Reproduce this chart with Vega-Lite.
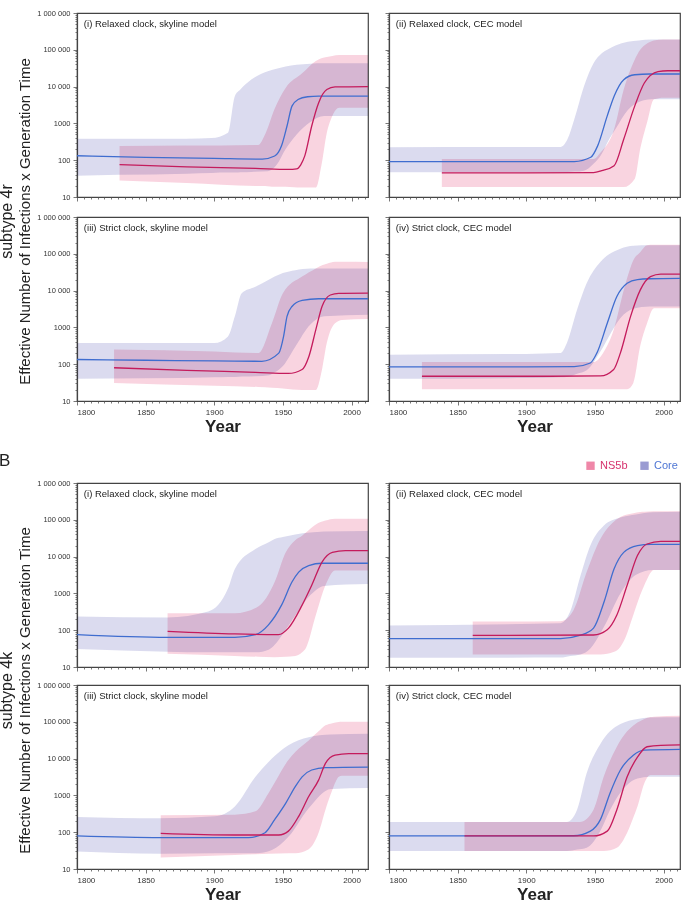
{
  "$schema": "https://vega.github.io/schema/vega-lite/v6.json",
  "padding": {"left": -1, "top": 8, "right": 0, "bottom": 0},
  "background": "white",
  "config": {
    "font": "Liberation Sans",
    "view": {"stroke": "#444", "strokeWidth": 1.2},
    "axis": {"domainColor": "#444", "domainWidth": 1.2, "tickColor": "#555", "tickWidth": 0.8, "labelColor": "#333", "labelFont": "Liberation Sans", "titleFont": "Liberation Sans", "titleColor": "#222", "grid": false, "labelOverlap": false},
    "title": {"font": "Liberation Sans", "fontWeight": "normal", "color": "#222", "subtitleFont": "Liberation Sans", "subtitleColor": "#222"}
  },
  "datasets": {
    "labels": [
      {"p": "A1", "label": "(i) Relaxed clock, skyline model"},
      {"p": "A2", "label": "(ii) Relaxed clock, CEC model"},
      {"p": "A3", "label": "(iii) Strict clock, skyline model"},
      {"p": "A4", "label": "(iv) Strict clock, CEC model"},
      {"p": "B1", "label": "(i) Relaxed clock, skyline model"},
      {"p": "B2", "label": "(ii) Relaxed clock, CEC model"},
      {"p": "B3", "label": "(iii) Strict clock, skyline model"},
      {"p": "B4", "label": "(iv) Strict clock, CEC model"}
    ],
    "bands": [
      {"p":"A1","s":"Core","x":1800,"lo":38,"hi":380},{"p":"A1","s":"Core","x":1830,"lo":40,"hi":380},{"p":"A1","s":"Core","x":1880,"lo":43,"hi":380},{"p":"A1","s":"Core","x":1898,"lo":45,"hi":400},{"p":"A1","s":"Core","x":1910,"lo":46,"hi":560},{"p":"A1","s":"Core","x":1915,"lo":46,"hi":5500},{"p":"A1","s":"Core","x":1919,"lo":47,"hi":8300},{"p":"A1","s":"Core","x":1927,"lo":48,"hi":15500},{"p":"A1","s":"Core","x":1939,"lo":50,"hi":26000},{"p":"A1","s":"Core","x":1946,"lo":80,"hi":31000},{"p":"A1","s":"Core","x":1952,"lo":200,"hi":35000},{"p":"A1","s":"Core","x":1960,"lo":500,"hi":39000},{"p":"A1","s":"Core","x":1970,"lo":1100,"hi":42000},{"p":"A1","s":"Core","x":1980,"lo":1600,"hi":43000},{"p":"A1","s":"Core","x":2012,"lo":1600,"hi":43000},
      {"p":"A1","s":"NS5b","x":1831,"lo":28,"hi":245},{"p":"A1","s":"NS5b","x":1880,"lo":24,"hi":250},{"p":"A1","s":"NS5b","x":1932,"lo":20,"hi":260},{"p":"A1","s":"NS5b","x":1937,"lo":20,"hi":500},{"p":"A1","s":"NS5b","x":1944,"lo":19,"hi":2500},{"p":"A1","s":"NS5b","x":1952,"lo":19,"hi":9200},{"p":"A1","s":"NS5b","x":1964,"lo":18,"hi":23000},{"p":"A1","s":"NS5b","x":1974,"lo":18,"hi":50000},{"p":"A1","s":"NS5b","x":1978,"lo":71,"hi":59000},{"p":"A1","s":"NS5b","x":1982,"lo":560,"hi":64000},{"p":"A1","s":"NS5b","x":1986,"lo":1600,"hi":68000},{"p":"A1","s":"NS5b","x":1991,"lo":2650,"hi":72000},{"p":"A1","s":"NS5b","x":2000,"lo":2650,"hi":72000},{"p":"A1","s":"NS5b","x":2012,"lo":2650,"hi":72000},

      {"p":"A2","s":"Core","x":1800,"lo":47,"hi":225},{"p":"A2","s":"Core","x":1900,"lo":47,"hi":228},{"p":"A2","s":"Core","x":1925,"lo":47,"hi":230},{"p":"A2","s":"Core","x":1930,"lo":48,"hi":370},{"p":"A2","s":"Core","x":1935,"lo":49,"hi":1290},{"p":"A2","s":"Core","x":1942,"lo":52,"hi":10000},{"p":"A2","s":"Core","x":1949,"lo":80,"hi":43000},{"p":"A2","s":"Core","x":1955,"lo":150,"hi":80000},{"p":"A2","s":"Core","x":1959,"lo":300,"hi":100000},{"p":"A2","s":"Core","x":1965,"lo":700,"hi":130000},{"p":"A2","s":"Core","x":1974,"lo":2300,"hi":165000},{"p":"A2","s":"Core","x":1982,"lo":3800,"hi":180000},{"p":"A2","s":"Core","x":1991,"lo":4500,"hi":190000},{"p":"A2","s":"Core","x":2012,"lo":4500,"hi":190000},
      {"p":"A2","s":"NS5b","x":1838.5,"lo":18.6,"hi":108},{"p":"A2","s":"NS5b","x":1900,"lo":18.6,"hi":108},{"p":"A2","s":"NS5b","x":1949,"lo":18.6,"hi":108},{"p":"A2","s":"NS5b","x":1954,"lo":18.6,"hi":160},{"p":"A2","s":"NS5b","x":1964,"lo":18.6,"hi":690},{"p":"A2","s":"NS5b","x":1971,"lo":18.6,"hi":8300},{"p":"A2","s":"NS5b","x":1979,"lo":31,"hi":54000},{"p":"A2","s":"NS5b","x":1983,"lo":200,"hi":100000},{"p":"A2","s":"NS5b","x":1988,"lo":1050,"hi":148000},{"p":"A2","s":"NS5b","x":1993,"lo":4500,"hi":180000},{"p":"A2","s":"NS5b","x":2000,"lo":5000,"hi":190000},{"p":"A2","s":"NS5b","x":2012,"lo":5000,"hi":190000},

      {"p":"A3","s":"Core","x":1800,"lo":40,"hi":375},{"p":"A3","s":"Core","x":1900,"lo":44,"hi":375},{"p":"A3","s":"Core","x":1910,"lo":45,"hi":570},{"p":"A3","s":"Core","x":1915,"lo":45,"hi":2000},{"p":"A3","s":"Core","x":1920,"lo":46,"hi":8500},{"p":"A3","s":"Core","x":1930,"lo":47,"hi":12700},{"p":"A3","s":"Core","x":1940,"lo":50,"hi":20000},{"p":"A3","s":"Core","x":1944,"lo":60,"hi":24000},{"p":"A3","s":"Core","x":1950,"lo":90,"hi":30000},{"p":"A3","s":"Core","x":1959,"lo":300,"hi":36000},{"p":"A3","s":"Core","x":1970,"lo":1200,"hi":40000},{"p":"A3","s":"Core","x":1980,"lo":2000,"hi":40000},{"p":"A3","s":"Core","x":2012,"lo":2200,"hi":40000},
      {"p":"A3","s":"NS5b","x":1827,"lo":31,"hi":250},{"p":"A3","s":"NS5b","x":1900,"lo":26,"hi":220},{"p":"A3","s":"NS5b","x":1932,"lo":24,"hi":200},{"p":"A3","s":"NS5b","x":1942,"lo":23,"hi":1300},{"p":"A3","s":"NS5b","x":1950,"lo":22,"hi":8500},{"p":"A3","s":"NS5b","x":1964,"lo":20,"hi":24000},{"p":"A3","s":"NS5b","x":1974,"lo":20,"hi":40000},{"p":"A3","s":"NS5b","x":1978.5,"lo":72,"hi":49000},{"p":"A3","s":"NS5b","x":1982,"lo":380,"hi":54000},{"p":"A3","s":"NS5b","x":1988,"lo":1300,"hi":61000},{"p":"A3","s":"NS5b","x":1993,"lo":1600,"hi":61000},{"p":"A3","s":"NS5b","x":2012,"lo":1700,"hi":60000},

      {"p":"A4","s":"Core","x":1800,"lo":40,"hi":182},{"p":"A4","s":"Core","x":1900,"lo":42,"hi":190},{"p":"A4","s":"Core","x":1925,"lo":44,"hi":200},{"p":"A4","s":"Core","x":1929.6,"lo":45,"hi":375},{"p":"A4","s":"Core","x":1937,"lo":55,"hi":3000},{"p":"A4","s":"Core","x":1944,"lo":68,"hi":15800},{"p":"A4","s":"Core","x":1954,"lo":220,"hi":60000},{"p":"A4","s":"Core","x":1960,"lo":550,"hi":95000},{"p":"A4","s":"Core","x":1968.6,"lo":1800,"hi":138000},{"p":"A4","s":"Core","x":1978,"lo":3200,"hi":165000},{"p":"A4","s":"Core","x":1990,"lo":3700,"hi":170000},{"p":"A4","s":"Core","x":2012,"lo":3700,"hi":170000},
      {"p":"A4","s":"NS5b","x":1824,"lo":20.7,"hi":115},{"p":"A4","s":"NS5b","x":1900,"lo":20.7,"hi":115},{"p":"A4","s":"NS5b","x":1949,"lo":20.7,"hi":115},{"p":"A4","s":"NS5b","x":1956,"lo":20.7,"hi":203},{"p":"A4","s":"NS5b","x":1963.7,"lo":20.7,"hi":860},{"p":"A4","s":"NS5b","x":1971,"lo":20.9,"hi":10300},{"p":"A4","s":"NS5b","x":1973.5,"lo":21,"hi":22000},{"p":"A4","s":"NS5b","x":1978,"lo":31,"hi":67000},{"p":"A4","s":"NS5b","x":1983,"lo":310,"hi":110000},{"p":"A4","s":"NS5b","x":1988,"lo":1300,"hi":170000},{"p":"A4","s":"NS5b","x":1993,"lo":3300,"hi":175000},{"p":"A4","s":"NS5b","x":2012,"lo":3300,"hi":175000},

      {"p":"B1","s":"Core","x":1800,"lo":31,"hi":235},{"p":"B1","s":"Core","x":1866,"lo":26,"hi":220},{"p":"B1","s":"Core","x":1895.6,"lo":25,"hi":320},{"p":"B1","s":"Core","x":1910,"lo":25,"hi":1350},{"p":"B1","s":"Core","x":1915,"lo":25,"hi":4600},{"p":"B1","s":"Core","x":1930,"lo":25,"hi":16000},{"p":"B1","s":"Core","x":1940,"lo":30,"hi":25000},{"p":"B1","s":"Core","x":1944,"lo":40,"hi":30000},{"p":"B1","s":"Core","x":1950,"lo":80,"hi":34000},{"p":"B1","s":"Core","x":1959,"lo":250,"hi":40000},{"p":"B1","s":"Core","x":1970,"lo":900,"hi":45000},{"p":"B1","s":"Core","x":1980,"lo":1600,"hi":48000},{"p":"B1","s":"Core","x":2012,"lo":1800,"hi":50000},
      {"p":"B1","s":"NS5b","x":1866,"lo":23,"hi":290},{"p":"B1","s":"NS5b","x":1915,"lo":20,"hi":290},{"p":"B1","s":"NS5b","x":1932,"lo":19,"hi":440},{"p":"B1","s":"NS5b","x":1944,"lo":18.5,"hi":2040},{"p":"B1","s":"NS5b","x":1952,"lo":19,"hi":13000},{"p":"B1","s":"NS5b","x":1959,"lo":20,"hi":28000},{"p":"B1","s":"NS5b","x":1964,"lo":25,"hi":37000},{"p":"B1","s":"NS5b","x":1966.8,"lo":33,"hi":45000},{"p":"B1","s":"NS5b","x":1974,"lo":260,"hi":75000},{"p":"B1","s":"NS5b","x":1981,"lo":1660,"hi":95000},{"p":"B1","s":"NS5b","x":1988,"lo":4200,"hi":107000},{"p":"B1","s":"NS5b","x":2012,"lo":4200,"hi":107000},

      {"p":"B2","s":"Core","x":1800,"lo":17.8,"hi":135},{"p":"B2","s":"Core","x":1925,"lo":18,"hi":155},{"p":"B2","s":"Core","x":1932,"lo":20,"hi":320},{"p":"B2","s":"Core","x":1939.6,"lo":22,"hi":3100},{"p":"B2","s":"Core","x":1946.7,"lo":32,"hi":20000},{"p":"B2","s":"Core","x":1956.4,"lo":120,"hi":69000},{"p":"B2","s":"Core","x":1968.6,"lo":1000,"hi":115000},{"p":"B2","s":"Core","x":1980,"lo":3200,"hi":140000},{"p":"B2","s":"Core","x":1992,"lo":4300,"hi":160000},{"p":"B2","s":"Core","x":2012,"lo":4300,"hi":165000},
      {"p":"B2","s":"NS5b","x":1861,"lo":22,"hi":172},{"p":"B2","s":"NS5b","x":1925,"lo":22,"hi":175},{"p":"B2","s":"NS5b","x":1934.5,"lo":22,"hi":355},{"p":"B2","s":"NS5b","x":1944,"lo":22,"hi":3800},{"p":"B2","s":"NS5b","x":1954,"lo":22,"hi":30000},{"p":"B2","s":"NS5b","x":1964,"lo":26,"hi":90000},{"p":"B2","s":"NS5b","x":1966,"lo":28,"hi":103000},{"p":"B2","s":"NS5b","x":1971,"lo":50,"hi":130000},{"p":"B2","s":"NS5b","x":1978,"lo":260,"hi":150000},{"p":"B2","s":"NS5b","x":1983,"lo":900,"hi":163000},{"p":"B2","s":"NS5b","x":1986,"lo":1660,"hi":165000},{"p":"B2","s":"NS5b","x":1993,"lo":4300,"hi":170000},{"p":"B2","s":"NS5b","x":2012,"lo":4300,"hi":170000},

      {"p":"B3","s":"Core","x":1800,"lo":30,"hi":260},{"p":"B3","s":"Core","x":1861,"lo":26,"hi":240},{"p":"B3","s":"Core","x":1900.5,"lo":27,"hi":270},{"p":"B3","s":"Core","x":1915,"lo":27,"hi":500},{"p":"B3","s":"Core","x":1930,"lo":27,"hi":3200},{"p":"B3","s":"Core","x":1942,"lo":33,"hi":10000},{"p":"B3","s":"Core","x":1954,"lo":75,"hi":23000},{"p":"B3","s":"Core","x":1968.8,"lo":450,"hi":38000},{"p":"B3","s":"Core","x":1985,"lo":1500,"hi":45000},{"p":"B3","s":"Core","x":2012,"lo":1600,"hi":47000},
      {"p":"B3","s":"NS5b","x":1861,"lo":20.5,"hi":290},{"p":"B3","s":"NS5b","x":1915,"lo":24,"hi":300},{"p":"B3","s":"NS5b","x":1930,"lo":25,"hi":370},{"p":"B3","s":"NS5b","x":1939.5,"lo":26,"hi":1150},{"p":"B3","s":"NS5b","x":1954,"lo":27,"hi":9100},{"p":"B3","s":"NS5b","x":1959,"lo":27,"hi":15000},{"p":"B3","s":"NS5b","x":1968.8,"lo":34.5,"hi":31000},{"p":"B3","s":"NS5b","x":1976,"lo":97,"hi":55000},{"p":"B3","s":"NS5b","x":1981,"lo":410,"hi":80000},{"p":"B3","s":"NS5b","x":1986,"lo":1400,"hi":92000},{"p":"B3","s":"NS5b","x":1990.7,"lo":3200,"hi":98000},{"p":"B3","s":"NS5b","x":1993,"lo":3400,"hi":100000},{"p":"B3","s":"NS5b","x":2012,"lo":3400,"hi":100000},

      {"p":"B4","s":"Core","x":1800,"lo":31,"hi":190},{"p":"B4","s":"Core","x":1929.6,"lo":31,"hi":190},{"p":"B4","s":"Core","x":1937,"lo":34,"hi":410},{"p":"B4","s":"Core","x":1944,"lo":38,"hi":4000},{"p":"B4","s":"Core","x":1954,"lo":110,"hi":25000},{"p":"B4","s":"Core","x":1961,"lo":400,"hi":55000},{"p":"B4","s":"Core","x":1968.6,"lo":1200,"hi":87000},{"p":"B4","s":"Core","x":1981,"lo":2900,"hi":120000},{"p":"B4","s":"Core","x":1990,"lo":3200,"hi":130000},{"p":"B4","s":"Core","x":2012,"lo":3200,"hi":133000},
      {"p":"B4","s":"NS5b","x":1855,"lo":31,"hi":190},{"p":"B4","s":"NS5b","x":1939,"lo":31,"hi":190},{"p":"B4","s":"NS5b","x":1949,"lo":31,"hi":410},{"p":"B4","s":"NS5b","x":1956.4,"lo":31,"hi":3200},{"p":"B4","s":"NS5b","x":1966,"lo":38,"hi":21000},{"p":"B4","s":"NS5b","x":1973.5,"lo":97,"hi":55000},{"p":"B4","s":"NS5b","x":1978,"lo":250,"hi":79000},{"p":"B4","s":"NS5b","x":1981,"lo":500,"hi":95000},{"p":"B4","s":"NS5b","x":1986,"lo":2150,"hi":120000},{"p":"B4","s":"NS5b","x":1990.5,"lo":3600,"hi":135000},{"p":"B4","s":"NS5b","x":1993,"lo":3600,"hi":138000},{"p":"B4","s":"NS5b","x":2012,"lo":3600,"hi":145000}
    ],
    "lines": [
      {"p":"A1","k":"Core","x":1800,"m":132},{"p":"A1","k":"Core","x":1850,"m":120},{"p":"A1","k":"Core","x":1900,"m":112},{"p":"A1","k":"Core","x":1935,"m":107},{"p":"A1","k":"Core","x":1944,"m":130},{"p":"A1","k":"Core","x":1949,"m":247},{"p":"A1","k":"Core","x":1953,"m":850},{"p":"A1","k":"Core","x":1956.6,"m":2950},{"p":"A1","k":"Core","x":1961,"m":4450},{"p":"A1","k":"Core","x":1968,"m":5300},{"p":"A1","k":"Core","x":1976,"m":5500},{"p":"A1","k":"Core","x":2012,"m":5500},
      {"p":"A1","k":"NS5b","x":1831,"m":76},{"p":"A1","k":"NS5b","x":1880,"m":66},{"p":"A1","k":"NS5b","x":1930,"m":60},{"p":"A1","k":"NS5b","x":1954,"m":56},{"p":"A1","k":"NS5b","x":1960,"m":58},{"p":"A1","k":"NS5b","x":1963,"m":75},{"p":"A1","k":"NS5b","x":1966,"m":133},{"p":"A1","k":"NS5b","x":1971,"m":850},{"p":"A1","k":"NS5b","x":1976,"m":3600},{"p":"A1","k":"NS5b","x":1982,"m":8300},{"p":"A1","k":"NS5b","x":1988,"m":9800},{"p":"A1","k":"NS5b","x":2012,"m":10000},

      {"p":"A2","k":"Core","x":1800,"m":91},{"p":"A2","k":"Core","x":1900,"m":91},{"p":"A2","k":"Core","x":1935,"m":92},{"p":"A2","k":"Core","x":1947,"m":120},{"p":"A2","k":"Core","x":1952,"m":245},{"p":"A2","k":"Core","x":1959,"m":1600},{"p":"A2","k":"Core","x":1964,"m":5500},{"p":"A2","k":"Core","x":1971,"m":15400},{"p":"A2","k":"Core","x":1979,"m":21000},{"p":"A2","k":"Core","x":1990,"m":22000},{"p":"A2","k":"Core","x":2012,"m":22000},
      {"p":"A2","k":"NS5b","x":1838.5,"m":45},{"p":"A2","k":"NS5b","x":1900,"m":45},{"p":"A2","k":"NS5b","x":1949,"m":46},{"p":"A2","k":"NS5b","x":1955,"m":52},{"p":"A2","k":"NS5b","x":1964,"m":71},{"p":"A2","k":"NS5b","x":1971,"m":370},{"p":"A2","k":"NS5b","x":1979,"m":2950},{"p":"A2","k":"NS5b","x":1986,"m":12500},{"p":"A2","k":"NS5b","x":1996,"m":25500},{"p":"A2","k":"NS5b","x":2003,"m":27000},{"p":"A2","k":"NS5b","x":2012,"m":27000},

      {"p":"A3","k":"Core","x":1800,"m":134},{"p":"A3","k":"Core","x":1850,"m":128},{"p":"A3","k":"Core","x":1900,"m":123},{"p":"A3","k":"Core","x":1934.6,"m":120},{"p":"A3","k":"Core","x":1947,"m":200},{"p":"A3","k":"Core","x":1950.5,"m":570},{"p":"A3","k":"Core","x":1953,"m":2000},{"p":"A3","k":"Core","x":1956.6,"m":3700},{"p":"A3","k":"Core","x":1964,"m":5400},{"p":"A3","k":"Core","x":1976,"m":6000},{"p":"A3","k":"Core","x":2012,"m":6000},
      {"p":"A3","k":"NS5b","x":1827,"m":80},{"p":"A3","k":"NS5b","x":1880,"m":68},{"p":"A3","k":"NS5b","x":1930,"m":60},{"p":"A3","k":"NS5b","x":1954,"m":56},{"p":"A3","k":"NS5b","x":1964,"m":72},{"p":"A3","k":"NS5b","x":1969,"m":165},{"p":"A3","k":"NS5b","x":1974,"m":870},{"p":"A3","k":"NS5b","x":1978.5,"m":3700},{"p":"A3","k":"NS5b","x":1984.6,"m":7600},{"p":"A3","k":"NS5b","x":1990.7,"m":8400},{"p":"A3","k":"NS5b","x":2012,"m":8500},

      {"p":"A4","k":"Core","x":1800,"m":85},{"p":"A4","k":"Core","x":1900,"m":85},{"p":"A4","k":"Core","x":1935,"m":86},{"p":"A4","k":"Core","x":1946.7,"m":108},{"p":"A4","k":"Core","x":1951.5,"m":203},{"p":"A4","k":"Core","x":1959,"m":1300},{"p":"A4","k":"Core","x":1966,"m":6900},{"p":"A4","k":"Core","x":1973.5,"m":15800},{"p":"A4","k":"Core","x":1981,"m":20000},{"p":"A4","k":"Core","x":1990,"m":21000},{"p":"A4","k":"Core","x":2012,"m":21500},
      {"p":"A4","k":"NS5b","x":1824,"m":47},{"p":"A4","k":"NS5b","x":1900,"m":47},{"p":"A4","k":"NS5b","x":1954,"m":48},{"p":"A4","k":"NS5b","x":1963.7,"m":72},{"p":"A4","k":"NS5b","x":1968.6,"m":203},{"p":"A4","k":"NS5b","x":1976,"m":2000},{"p":"A4","k":"NS5b","x":1983,"m":10300},{"p":"A4","k":"NS5b","x":1990.5,"m":24000},{"p":"A4","k":"NS5b","x":1998,"m":28000},{"p":"A4","k":"NS5b","x":2012,"m":28000},

      {"p":"B1","k":"Core","x":1800,"m":76},{"p":"B1","k":"Core","x":1866,"m":64},{"p":"B1","k":"Core","x":1915,"m":64},{"p":"B1","k":"Core","x":1930,"m":76},{"p":"B1","k":"Core","x":1939.5,"m":140},{"p":"B1","k":"Core","x":1949,"m":480},{"p":"B1","k":"Core","x":1956.6,"m":2040},{"p":"B1","k":"Core","x":1961.5,"m":3800},{"p":"B1","k":"Core","x":1968.8,"m":5700},{"p":"B1","k":"Core","x":1978.5,"m":6600},{"p":"B1","k":"Core","x":2012,"m":6600},
      {"p":"B1","k":"NS5b","x":1866,"m":93},{"p":"B1","k":"NS5b","x":1915,"m":79},{"p":"B1","k":"NS5b","x":1946.8,"m":76},{"p":"B1","k":"NS5b","x":1954,"m":114},{"p":"B1","k":"NS5b","x":1964,"m":480},{"p":"B1","k":"NS5b","x":1971,"m":1660},{"p":"B1","k":"NS5b","x":1978.5,"m":7100},{"p":"B1","k":"NS5b","x":1986,"m":13000},{"p":"B1","k":"NS5b","x":1995.6,"m":14500},{"p":"B1","k":"NS5b","x":2012,"m":14500},

      {"p":"B2","k":"Core","x":1800,"m":59},{"p":"B2","k":"Core","x":1925,"m":59},{"p":"B2","k":"Core","x":1939.6,"m":73},{"p":"B2","k":"Core","x":1949,"m":114},{"p":"B2","k":"Core","x":1956.7,"m":590},{"p":"B2","k":"Core","x":1964,"m":4650},{"p":"B2","k":"Core","x":1971,"m":13000},{"p":"B2","k":"Core","x":1981,"m":20000},{"p":"B2","k":"Core","x":1990.5,"m":21500},{"p":"B2","k":"Core","x":2012,"m":21500},
      {"p":"B2","k":"NS5b","x":1861,"m":72},{"p":"B2","k":"NS5b","x":1949,"m":74},{"p":"B2","k":"NS5b","x":1959,"m":103},{"p":"B2","k":"NS5b","x":1966,"m":260},{"p":"B2","k":"NS5b","x":1973.5,"m":1660},{"p":"B2","k":"NS5b","x":1981,"m":10700},{"p":"B2","k":"NS5b","x":1988,"m":22000},{"p":"B2","k":"NS5b","x":1998,"m":26000},{"p":"B2","k":"NS5b","x":2012,"m":26000},

      {"p":"B3","k":"Core","x":1800,"m":79},{"p":"B3","k":"Core","x":1861,"m":71},{"p":"B3","k":"Core","x":1925,"m":71},{"p":"B3","k":"Core","x":1937,"m":97},{"p":"B3","k":"Core","x":1944,"m":220},{"p":"B3","k":"Core","x":1952,"m":610},{"p":"B3","k":"Core","x":1959,"m":1730},{"p":"B3","k":"Core","x":1964,"m":3200},{"p":"B3","k":"Core","x":1971,"m":4900},{"p":"B3","k":"Core","x":1981,"m":5700},{"p":"B3","k":"Core","x":2012,"m":5900},
      {"p":"B3","k":"NS5b","x":1861,"m":93},{"p":"B3","k":"NS5b","x":1915,"m":84},{"p":"B3","k":"NS5b","x":1947,"m":84},{"p":"B3","k":"NS5b","x":1954,"m":107},{"p":"B3","k":"NS5b","x":1961.5,"m":270},{"p":"B3","k":"NS5b","x":1968.8,"m":930},{"p":"B3","k":"NS5b","x":1976,"m":2600},{"p":"B3","k":"NS5b","x":1981,"m":7400},{"p":"B3","k":"NS5b","x":1988,"m":12400},{"p":"B3","k":"NS5b","x":1998,"m":13700},{"p":"B3","k":"NS5b","x":2012,"m":13700},

      {"p":"B4","k":"Core","x":1800,"m":79},{"p":"B4","k":"Core","x":1934.5,"m":80},{"p":"B4","k":"Core","x":1946.7,"m":107},{"p":"B4","k":"Core","x":1954,"m":220},{"p":"B4","k":"Core","x":1961,"m":1150},{"p":"B4","k":"Core","x":1968.6,"m":4900},{"p":"B4","k":"Core","x":1978,"m":12400},{"p":"B4","k":"Core","x":1985.7,"m":17000},{"p":"B4","k":"Core","x":2012,"m":17800},
      {"p":"B4","k":"NS5b","x":1855,"m":79},{"p":"B4","k":"NS5b","x":1949,"m":79},{"p":"B4","k":"NS5b","x":1959,"m":107},{"p":"B4","k":"NS5b","x":1966,"m":410},{"p":"B4","k":"NS5b","x":1973.5,"m":3200},{"p":"B4","k":"NS5b","x":1981,"m":11000},{"p":"B4","k":"NS5b","x":1988,"m":21000},{"p":"B4","k":"NS5b","x":1998,"m":23000},{"p":"B4","k":"NS5b","x":2012,"m":23500}
    ]
  },
  "spacing": 17,
  "vconcat": [
    {
      "title": {"text": "subtype 4r", "subtitle": "Effective Number of Infections x Generation Time", "orient": "left", "anchor": "middle", "fontSize": 16, "subtitleFontSize": 15, "subtitlePadding": 3, "offset": 3},
      "spacing": 10,
      "vconcat": [
        {"spacing": 12, "hconcat": [
          {"width": 291, "height": 184, "resolve": {"axis": {"x": "independent", "y": "independent"}}, "layer": [
            {"data": {"name": "bands"}, "transform": [{"filter": "datum.p === 'A1'"}], "mark": {"type": "area", "interpolate": "monotone", "blend": "multiply", "opacity": 0.36},
             "encoding": {
               "x": {"field": "x", "type": "quantitative", "scale": {"domain": [1800, 2012], "nice": false, "zero": false}, "axis": {"title": null, "labels": false, "values": [1800,1850,1900,1950,2000], "tickSize": 4}},
               "y": {"field": "lo", "type": "quantitative", "scale": {"type": "log", "domain": [10, 1000000], "nice": false}, "axis": {"title": null, "values": [10,100,1000,10000,100000,1000000], "labelExpr": "datum.value === 1000000 ? '1 000 000' : datum.value === 100000 ? '100 000' : datum.value === 10000 ? '10 000' : datum.value === 1000 ? '1000' : datum.value === 100 ? '100' : '10'", "labelFontSize": 7.5, "labelPadding": 3, "tickSize": 4}},
               "y2": {"field": "hi"},
               "color": {"field": "s", "type": "nominal", "scale": {"domain": ["NS5b", "Core"], "range": ["#ef87a8", "#9a9bd2"]}, "legend": {"title": null, "orient": "none", "direction": "horizontal", "legendX": 508, "legendY": 447, "symbolType": "square", "symbolSize": 70, "symbolOpacity": 1, "symbolStrokeWidth": 0, "labelFontSize": 11, "labelOffset": 4, "columnPadding": 11, "encode": {"labels": {"update": {"fill": {"signal": "datum.value === 'NS5b' ? '#d6336e' : '#4e76d4'"}}}}}}
             }},
            {"data": {"name": "lines"}, "transform": [{"filter": "datum.p === 'A1'"}], "mark": {"type": "line", "interpolate": "monotone", "strokeWidth": 1.3},
             "encoding": {
               "x": {"field": "x", "type": "quantitative", "axis": {"orient": "bottom", "title": null, "labels": false, "domain": false, "tickSize": 2, "values": [1805,1810,1815,1820,1825,1830,1835,1840,1845,1855,1860,1865,1870,1875,1880,1885,1890,1895,1905,1910,1915,1920,1925,1930,1935,1940,1945,1955,1960,1965,1970,1975,1980,1985,1990,1995,2005,2010]}},
               "y": {"field": "m", "type": "quantitative", "axis": {"orient": "left", "title": null, "labels": false, "domain": false, "tickSize": 2, "values": [20,30,40,50,60,70,80,90,200,300,400,500,600,700,800,900,2000,3000,4000,5000,6000,7000,8000,9000,20000,30000,40000,50000,60000,70000,80000,90000,200000,300000,400000,500000,600000,700000,800000,900000]}},
               "stroke": {"field": "k", "type": "nominal", "scale": {"domain": ["NS5b", "Core"], "range": ["#c41b5c", "#3f6dcf"]}, "legend": null}}},
            {"data": {"name": "labels"}, "transform": [{"filter": "datum.p === 'A1'"}], "mark": {"type": "text", "align": "left", "baseline": "middle", "fontSize": 9.5, "color": "#222"},
             "encoding": {"x": {"datum": 1805, "axis": null}, "y": {"datum": 500000, "axis": null}, "text": {"field": "label"}}}
          ]},
          {"width": 291, "height": 184, "resolve": {"axis": {"x": "independent", "y": "independent"}}, "layer": [
            {"data": {"name": "bands"}, "transform": [{"filter": "datum.p === 'A2'"}], "mark": {"type": "area", "interpolate": "monotone", "blend": "multiply", "opacity": 0.36},
             "encoding": {
               "x": {"field": "x", "type": "quantitative", "scale": {"domain": [1800, 2012], "nice": false, "zero": false}, "axis": {"title": null, "labels": false, "values": [1800,1850,1900,1950,2000], "tickSize": 4}},
               "y": {"field": "lo", "type": "quantitative", "scale": {"type": "log", "domain": [10, 1000000], "nice": false}, "axis": {"title": null, "labels": false, "values": [10,100,1000,10000,100000,1000000], "tickSize": 4}},
               "y2": {"field": "hi"},
               "color": {"field": "s", "type": "nominal", "scale": {"domain": ["NS5b", "Core"], "range": ["#ef87a8", "#9a9bd2"]}, "legend": {"title": null, "orient": "none", "direction": "horizontal", "legendX": 508, "legendY": 447, "symbolType": "square", "symbolSize": 70, "symbolOpacity": 1, "symbolStrokeWidth": 0, "labelFontSize": 11, "labelOffset": 4, "columnPadding": 11, "encode": {"labels": {"update": {"fill": {"signal": "datum.value === 'NS5b' ? '#d6336e' : '#4e76d4'"}}}}}}
             }},
            {"data": {"name": "lines"}, "transform": [{"filter": "datum.p === 'A2'"}], "mark": {"type": "line", "interpolate": "monotone", "strokeWidth": 1.3},
             "encoding": {
               "x": {"field": "x", "type": "quantitative", "axis": {"orient": "bottom", "title": null, "labels": false, "domain": false, "tickSize": 2, "values": [1805,1810,1815,1820,1825,1830,1835,1840,1845,1855,1860,1865,1870,1875,1880,1885,1890,1895,1905,1910,1915,1920,1925,1930,1935,1940,1945,1955,1960,1965,1970,1975,1980,1985,1990,1995,2005,2010]}},
               "y": {"field": "m", "type": "quantitative", "axis": {"orient": "left", "title": null, "labels": false, "domain": false, "tickSize": 2, "values": [20,30,40,50,60,70,80,90,200,300,400,500,600,700,800,900,2000,3000,4000,5000,6000,7000,8000,9000,20000,30000,40000,50000,60000,70000,80000,90000,200000,300000,400000,500000,600000,700000,800000,900000]}},
               "stroke": {"field": "k", "type": "nominal", "scale": {"domain": ["NS5b", "Core"], "range": ["#c41b5c", "#3f6dcf"]}, "legend": null}}},
            {"data": {"name": "labels"}, "transform": [{"filter": "datum.p === 'A2'"}], "mark": {"type": "text", "align": "left", "baseline": "middle", "fontSize": 9.5, "color": "#222"},
             "encoding": {"x": {"datum": 1805, "axis": null}, "y": {"datum": 500000, "axis": null}, "text": {"field": "label"}}}
          ]}
        ]},
        {"spacing": 12, "hconcat": [
          {"width": 291, "height": 184, "resolve": {"axis": {"x": "independent", "y": "independent"}}, "layer": [
            {"data": {"name": "bands"}, "transform": [{"filter": "datum.p === 'A3'"}], "mark": {"type": "area", "interpolate": "monotone", "blend": "multiply", "opacity": 0.36},
             "encoding": {
               "x": {"field": "x", "type": "quantitative", "scale": {"domain": [1800, 2012], "nice": false, "zero": false}, "axis": {"title": "Year", "titleFontSize": 17, "titlePadding": 2, "labelFontSize": 8, "labelPadding": 3, "format": "d", "values": [1800,1850,1900,1950,2000], "tickSize": 4}},
               "y": {"field": "lo", "type": "quantitative", "scale": {"type": "log", "domain": [10, 1000000], "nice": false}, "axis": {"title": null, "values": [10,100,1000,10000,100000,1000000], "labelExpr": "datum.value === 1000000 ? '1 000 000' : datum.value === 100000 ? '100 000' : datum.value === 10000 ? '10 000' : datum.value === 1000 ? '1000' : datum.value === 100 ? '100' : '10'", "labelFontSize": 7.5, "labelPadding": 3, "tickSize": 4}},
               "y2": {"field": "hi"},
               "color": {"field": "s", "type": "nominal", "scale": {"domain": ["NS5b", "Core"], "range": ["#ef87a8", "#9a9bd2"]}, "legend": {"title": null, "orient": "none", "direction": "horizontal", "legendX": 508, "legendY": 447, "symbolType": "square", "symbolSize": 70, "symbolOpacity": 1, "symbolStrokeWidth": 0, "labelFontSize": 11, "labelOffset": 4, "columnPadding": 11, "encode": {"labels": {"update": {"fill": {"signal": "datum.value === 'NS5b' ? '#d6336e' : '#4e76d4'"}}}}}}
             }},
            {"data": {"name": "lines"}, "transform": [{"filter": "datum.p === 'A3'"}], "mark": {"type": "line", "interpolate": "monotone", "strokeWidth": 1.3},
             "encoding": {
               "x": {"field": "x", "type": "quantitative", "axis": {"orient": "bottom", "title": null, "labels": false, "domain": false, "tickSize": 2, "values": [1805,1810,1815,1820,1825,1830,1835,1840,1845,1855,1860,1865,1870,1875,1880,1885,1890,1895,1905,1910,1915,1920,1925,1930,1935,1940,1945,1955,1960,1965,1970,1975,1980,1985,1990,1995,2005,2010]}},
               "y": {"field": "m", "type": "quantitative", "axis": {"orient": "left", "title": null, "labels": false, "domain": false, "tickSize": 2, "values": [20,30,40,50,60,70,80,90,200,300,400,500,600,700,800,900,2000,3000,4000,5000,6000,7000,8000,9000,20000,30000,40000,50000,60000,70000,80000,90000,200000,300000,400000,500000,600000,700000,800000,900000]}},
               "stroke": {"field": "k", "type": "nominal", "scale": {"domain": ["NS5b", "Core"], "range": ["#c41b5c", "#3f6dcf"]}, "legend": null}}},
            {"data": {"name": "labels"}, "transform": [{"filter": "datum.p === 'A3'"}], "mark": {"type": "text", "align": "left", "baseline": "middle", "fontSize": 9.5, "color": "#222"},
             "encoding": {"x": {"datum": 1805, "axis": null}, "y": {"datum": 500000, "axis": null}, "text": {"field": "label"}}}
          ]},
          {"width": 291, "height": 184, "resolve": {"axis": {"x": "independent", "y": "independent"}}, "layer": [
            {"data": {"name": "bands"}, "transform": [{"filter": "datum.p === 'A4'"}], "mark": {"type": "area", "interpolate": "monotone", "blend": "multiply", "opacity": 0.36},
             "encoding": {
               "x": {"field": "x", "type": "quantitative", "scale": {"domain": [1800, 2012], "nice": false, "zero": false}, "axis": {"title": "Year", "titleFontSize": 17, "titlePadding": 2, "labelFontSize": 8, "labelPadding": 3, "format": "d", "values": [1800,1850,1900,1950,2000], "tickSize": 4}},
               "y": {"field": "lo", "type": "quantitative", "scale": {"type": "log", "domain": [10, 1000000], "nice": false}, "axis": {"title": null, "labels": false, "values": [10,100,1000,10000,100000,1000000], "tickSize": 4}},
               "y2": {"field": "hi"},
               "color": {"field": "s", "type": "nominal", "scale": {"domain": ["NS5b", "Core"], "range": ["#ef87a8", "#9a9bd2"]}, "legend": {"title": null, "orient": "none", "direction": "horizontal", "legendX": 508, "legendY": 447, "symbolType": "square", "symbolSize": 70, "symbolOpacity": 1, "symbolStrokeWidth": 0, "labelFontSize": 11, "labelOffset": 4, "columnPadding": 11, "encode": {"labels": {"update": {"fill": {"signal": "datum.value === 'NS5b' ? '#d6336e' : '#4e76d4'"}}}}}}
             }},
            {"data": {"name": "lines"}, "transform": [{"filter": "datum.p === 'A4'"}], "mark": {"type": "line", "interpolate": "monotone", "strokeWidth": 1.3},
             "encoding": {
               "x": {"field": "x", "type": "quantitative", "axis": {"orient": "bottom", "title": null, "labels": false, "domain": false, "tickSize": 2, "values": [1805,1810,1815,1820,1825,1830,1835,1840,1845,1855,1860,1865,1870,1875,1880,1885,1890,1895,1905,1910,1915,1920,1925,1930,1935,1940,1945,1955,1960,1965,1970,1975,1980,1985,1990,1995,2005,2010]}},
               "y": {"field": "m", "type": "quantitative", "axis": {"orient": "left", "title": null, "labels": false, "domain": false, "tickSize": 2, "values": [20,30,40,50,60,70,80,90,200,300,400,500,600,700,800,900,2000,3000,4000,5000,6000,7000,8000,9000,20000,30000,40000,50000,60000,70000,80000,90000,200000,300000,400000,500000,600000,700000,800000,900000]}},
               "stroke": {"field": "k", "type": "nominal", "scale": {"domain": ["NS5b", "Core"], "range": ["#c41b5c", "#3f6dcf"]}, "legend": null}}},
            {"data": {"name": "labels"}, "transform": [{"filter": "datum.p === 'A4'"}], "mark": {"type": "text", "align": "left", "baseline": "middle", "fontSize": 9.5, "color": "#222"},
             "encoding": {"x": {"datum": 1805, "axis": null}, "y": {"datum": 500000, "axis": null}, "text": {"field": "label"}}}
          ]}
        ]}
      ]
    },
    {
      "title": {"text": "B", "anchor": "start", "frame": "bounds", "fontSize": 17, "offset": 8},
      "vconcat": [
        {
          "title": {"text": "subtype 4k", "subtitle": "Effective Number of Infections x Generation Time", "orient": "left", "anchor": "middle", "fontSize": 16, "subtitleFontSize": 15, "subtitlePadding": 3, "offset": 3},
          "spacing": 8,
          "vconcat": [
            {"spacing": 12, "hconcat": [
              {"width": 291, "height": 184, "resolve": {"axis": {"x": "independent", "y": "independent"}}, "layer": [
                {"data": {"name": "bands"}, "transform": [{"filter": "datum.p === 'B1'"}], "mark": {"type": "area", "interpolate": "monotone", "blend": "multiply", "opacity": 0.36},
                 "encoding": {
                   "x": {"field": "x", "type": "quantitative", "scale": {"domain": [1800, 2012], "nice": false, "zero": false}, "axis": {"title": null, "labels": false, "values": [1800,1850,1900,1950,2000], "tickSize": 4}},
                   "y": {"field": "lo", "type": "quantitative", "scale": {"type": "log", "domain": [10, 1000000], "nice": false}, "axis": {"title": null, "values": [10,100,1000,10000,100000,1000000], "labelExpr": "datum.value === 1000000 ? '1 000 000' : datum.value === 100000 ? '100 000' : datum.value === 10000 ? '10 000' : datum.value === 1000 ? '1000' : datum.value === 100 ? '100' : '10'", "labelFontSize": 7.5, "labelPadding": 3, "tickSize": 4}},
                   "y2": {"field": "hi"},
                   "color": {"field": "s", "type": "nominal", "scale": {"domain": ["NS5b", "Core"], "range": ["#ef87a8", "#9a9bd2"]}, "legend": {"title": null, "orient": "none", "direction": "horizontal", "legendX": 508, "legendY": 447, "symbolType": "square", "symbolSize": 70, "symbolOpacity": 1, "symbolStrokeWidth": 0, "labelFontSize": 11, "labelOffset": 4, "columnPadding": 11, "encode": {"labels": {"update": {"fill": {"signal": "datum.value === 'NS5b' ? '#d6336e' : '#4e76d4'"}}}}}}
                 }},
                {"data": {"name": "lines"}, "transform": [{"filter": "datum.p === 'B1'"}], "mark": {"type": "line", "interpolate": "monotone", "strokeWidth": 1.3},
                 "encoding": {
                   "x": {"field": "x", "type": "quantitative", "axis": {"orient": "bottom", "title": null, "labels": false, "domain": false, "tickSize": 2, "values": [1805,1810,1815,1820,1825,1830,1835,1840,1845,1855,1860,1865,1870,1875,1880,1885,1890,1895,1905,1910,1915,1920,1925,1930,1935,1940,1945,1955,1960,1965,1970,1975,1980,1985,1990,1995,2005,2010]}},
                   "y": {"field": "m", "type": "quantitative", "axis": {"orient": "left", "title": null, "labels": false, "domain": false, "tickSize": 2, "values": [20,30,40,50,60,70,80,90,200,300,400,500,600,700,800,900,2000,3000,4000,5000,6000,7000,8000,9000,20000,30000,40000,50000,60000,70000,80000,90000,200000,300000,400000,500000,600000,700000,800000,900000]}},
                   "stroke": {"field": "k", "type": "nominal", "scale": {"domain": ["NS5b", "Core"], "range": ["#c41b5c", "#3f6dcf"]}, "legend": null}}},
                {"data": {"name": "labels"}, "transform": [{"filter": "datum.p === 'B1'"}], "mark": {"type": "text", "align": "left", "baseline": "middle", "fontSize": 9.5, "color": "#222"},
                 "encoding": {"x": {"datum": 1805, "axis": null}, "y": {"datum": 500000, "axis": null}, "text": {"field": "label"}}}
              ]},
              {"width": 291, "height": 184, "resolve": {"axis": {"x": "independent", "y": "independent"}}, "layer": [
                {"data": {"name": "bands"}, "transform": [{"filter": "datum.p === 'B2'"}], "mark": {"type": "area", "interpolate": "monotone", "blend": "multiply", "opacity": 0.36},
                 "encoding": {
                   "x": {"field": "x", "type": "quantitative", "scale": {"domain": [1800, 2012], "nice": false, "zero": false}, "axis": {"title": null, "labels": false, "values": [1800,1850,1900,1950,2000], "tickSize": 4}},
                   "y": {"field": "lo", "type": "quantitative", "scale": {"type": "log", "domain": [10, 1000000], "nice": false}, "axis": {"title": null, "labels": false, "values": [10,100,1000,10000,100000,1000000], "tickSize": 4}},
                   "y2": {"field": "hi"},
                   "color": {"field": "s", "type": "nominal", "scale": {"domain": ["NS5b", "Core"], "range": ["#ef87a8", "#9a9bd2"]}, "legend": {"title": null, "orient": "none", "direction": "horizontal", "legendX": 508, "legendY": 447, "symbolType": "square", "symbolSize": 70, "symbolOpacity": 1, "symbolStrokeWidth": 0, "labelFontSize": 11, "labelOffset": 4, "columnPadding": 11, "encode": {"labels": {"update": {"fill": {"signal": "datum.value === 'NS5b' ? '#d6336e' : '#4e76d4'"}}}}}}
                 }},
                {"data": {"name": "lines"}, "transform": [{"filter": "datum.p === 'B2'"}], "mark": {"type": "line", "interpolate": "monotone", "strokeWidth": 1.3},
                 "encoding": {
                   "x": {"field": "x", "type": "quantitative", "axis": {"orient": "bottom", "title": null, "labels": false, "domain": false, "tickSize": 2, "values": [1805,1810,1815,1820,1825,1830,1835,1840,1845,1855,1860,1865,1870,1875,1880,1885,1890,1895,1905,1910,1915,1920,1925,1930,1935,1940,1945,1955,1960,1965,1970,1975,1980,1985,1990,1995,2005,2010]}},
                   "y": {"field": "m", "type": "quantitative", "axis": {"orient": "left", "title": null, "labels": false, "domain": false, "tickSize": 2, "values": [20,30,40,50,60,70,80,90,200,300,400,500,600,700,800,900,2000,3000,4000,5000,6000,7000,8000,9000,20000,30000,40000,50000,60000,70000,80000,90000,200000,300000,400000,500000,600000,700000,800000,900000]}},
                   "stroke": {"field": "k", "type": "nominal", "scale": {"domain": ["NS5b", "Core"], "range": ["#c41b5c", "#3f6dcf"]}, "legend": null}}},
                {"data": {"name": "labels"}, "transform": [{"filter": "datum.p === 'B2'"}], "mark": {"type": "text", "align": "left", "baseline": "middle", "fontSize": 9.5, "color": "#222"},
                 "encoding": {"x": {"datum": 1805, "axis": null}, "y": {"datum": 500000, "axis": null}, "text": {"field": "label"}}}
              ]}
            ]},
            {"spacing": 12, "hconcat": [
              {"width": 291, "height": 184, "resolve": {"axis": {"x": "independent", "y": "independent"}}, "layer": [
                {"data": {"name": "bands"}, "transform": [{"filter": "datum.p === 'B3'"}], "mark": {"type": "area", "interpolate": "monotone", "blend": "multiply", "opacity": 0.36},
                 "encoding": {
                   "x": {"field": "x", "type": "quantitative", "scale": {"domain": [1800, 2012], "nice": false, "zero": false}, "axis": {"title": "Year", "titleFontSize": 17, "titlePadding": 2, "labelFontSize": 8, "labelPadding": 3, "format": "d", "values": [1800,1850,1900,1950,2000], "tickSize": 4}},
                   "y": {"field": "lo", "type": "quantitative", "scale": {"type": "log", "domain": [10, 1000000], "nice": false}, "axis": {"title": null, "values": [10,100,1000,10000,100000,1000000], "labelExpr": "datum.value === 1000000 ? '1 000 000' : datum.value === 100000 ? '100 000' : datum.value === 10000 ? '10 000' : datum.value === 1000 ? '1000' : datum.value === 100 ? '100' : '10'", "labelFontSize": 7.5, "labelPadding": 3, "tickSize": 4}},
                   "y2": {"field": "hi"},
                   "color": {"field": "s", "type": "nominal", "scale": {"domain": ["NS5b", "Core"], "range": ["#ef87a8", "#9a9bd2"]}, "legend": {"title": null, "orient": "none", "direction": "horizontal", "legendX": 508, "legendY": 447, "symbolType": "square", "symbolSize": 70, "symbolOpacity": 1, "symbolStrokeWidth": 0, "labelFontSize": 11, "labelOffset": 4, "columnPadding": 11, "encode": {"labels": {"update": {"fill": {"signal": "datum.value === 'NS5b' ? '#d6336e' : '#4e76d4'"}}}}}}
                 }},
                {"data": {"name": "lines"}, "transform": [{"filter": "datum.p === 'B3'"}], "mark": {"type": "line", "interpolate": "monotone", "strokeWidth": 1.3},
                 "encoding": {
                   "x": {"field": "x", "type": "quantitative", "axis": {"orient": "bottom", "title": null, "labels": false, "domain": false, "tickSize": 2, "values": [1805,1810,1815,1820,1825,1830,1835,1840,1845,1855,1860,1865,1870,1875,1880,1885,1890,1895,1905,1910,1915,1920,1925,1930,1935,1940,1945,1955,1960,1965,1970,1975,1980,1985,1990,1995,2005,2010]}},
                   "y": {"field": "m", "type": "quantitative", "axis": {"orient": "left", "title": null, "labels": false, "domain": false, "tickSize": 2, "values": [20,30,40,50,60,70,80,90,200,300,400,500,600,700,800,900,2000,3000,4000,5000,6000,7000,8000,9000,20000,30000,40000,50000,60000,70000,80000,90000,200000,300000,400000,500000,600000,700000,800000,900000]}},
                   "stroke": {"field": "k", "type": "nominal", "scale": {"domain": ["NS5b", "Core"], "range": ["#c41b5c", "#3f6dcf"]}, "legend": null}}},
                {"data": {"name": "labels"}, "transform": [{"filter": "datum.p === 'B3'"}], "mark": {"type": "text", "align": "left", "baseline": "middle", "fontSize": 9.5, "color": "#222"},
                 "encoding": {"x": {"datum": 1805, "axis": null}, "y": {"datum": 500000, "axis": null}, "text": {"field": "label"}}}
              ]},
              {"width": 291, "height": 184, "resolve": {"axis": {"x": "independent", "y": "independent"}}, "layer": [
                {"data": {"name": "bands"}, "transform": [{"filter": "datum.p === 'B4'"}], "mark": {"type": "area", "interpolate": "monotone", "blend": "multiply", "opacity": 0.36},
                 "encoding": {
                   "x": {"field": "x", "type": "quantitative", "scale": {"domain": [1800, 2012], "nice": false, "zero": false}, "axis": {"title": "Year", "titleFontSize": 17, "titlePadding": 2, "labelFontSize": 8, "labelPadding": 3, "format": "d", "values": [1800,1850,1900,1950,2000], "tickSize": 4}},
                   "y": {"field": "lo", "type": "quantitative", "scale": {"type": "log", "domain": [10, 1000000], "nice": false}, "axis": {"title": null, "labels": false, "values": [10,100,1000,10000,100000,1000000], "tickSize": 4}},
                   "y2": {"field": "hi"},
                   "color": {"field": "s", "type": "nominal", "scale": {"domain": ["NS5b", "Core"], "range": ["#ef87a8", "#9a9bd2"]}, "legend": {"title": null, "orient": "none", "direction": "horizontal", "legendX": 508, "legendY": 447, "symbolType": "square", "symbolSize": 70, "symbolOpacity": 1, "symbolStrokeWidth": 0, "labelFontSize": 11, "labelOffset": 4, "columnPadding": 11, "encode": {"labels": {"update": {"fill": {"signal": "datum.value === 'NS5b' ? '#d6336e' : '#4e76d4'"}}}}}}
                 }},
                {"data": {"name": "lines"}, "transform": [{"filter": "datum.p === 'B4'"}], "mark": {"type": "line", "interpolate": "monotone", "strokeWidth": 1.3},
                 "encoding": {
                   "x": {"field": "x", "type": "quantitative", "axis": {"orient": "bottom", "title": null, "labels": false, "domain": false, "tickSize": 2, "values": [1805,1810,1815,1820,1825,1830,1835,1840,1845,1855,1860,1865,1870,1875,1880,1885,1890,1895,1905,1910,1915,1920,1925,1930,1935,1940,1945,1955,1960,1965,1970,1975,1980,1985,1990,1995,2005,2010]}},
                   "y": {"field": "m", "type": "quantitative", "axis": {"orient": "left", "title": null, "labels": false, "domain": false, "tickSize": 2, "values": [20,30,40,50,60,70,80,90,200,300,400,500,600,700,800,900,2000,3000,4000,5000,6000,7000,8000,9000,20000,30000,40000,50000,60000,70000,80000,90000,200000,300000,400000,500000,600000,700000,800000,900000]}},
                   "stroke": {"field": "k", "type": "nominal", "scale": {"domain": ["NS5b", "Core"], "range": ["#c41b5c", "#3f6dcf"]}, "legend": null}}},
                {"data": {"name": "labels"}, "transform": [{"filter": "datum.p === 'B4'"}], "mark": {"type": "text", "align": "left", "baseline": "middle", "fontSize": 9.5, "color": "#222"},
                 "encoding": {"x": {"datum": 1805, "axis": null}, "y": {"datum": 500000, "axis": null}, "text": {"field": "label"}}}
              ]}
            ]}
          ]
        }
      ]
    }
  ]
}
